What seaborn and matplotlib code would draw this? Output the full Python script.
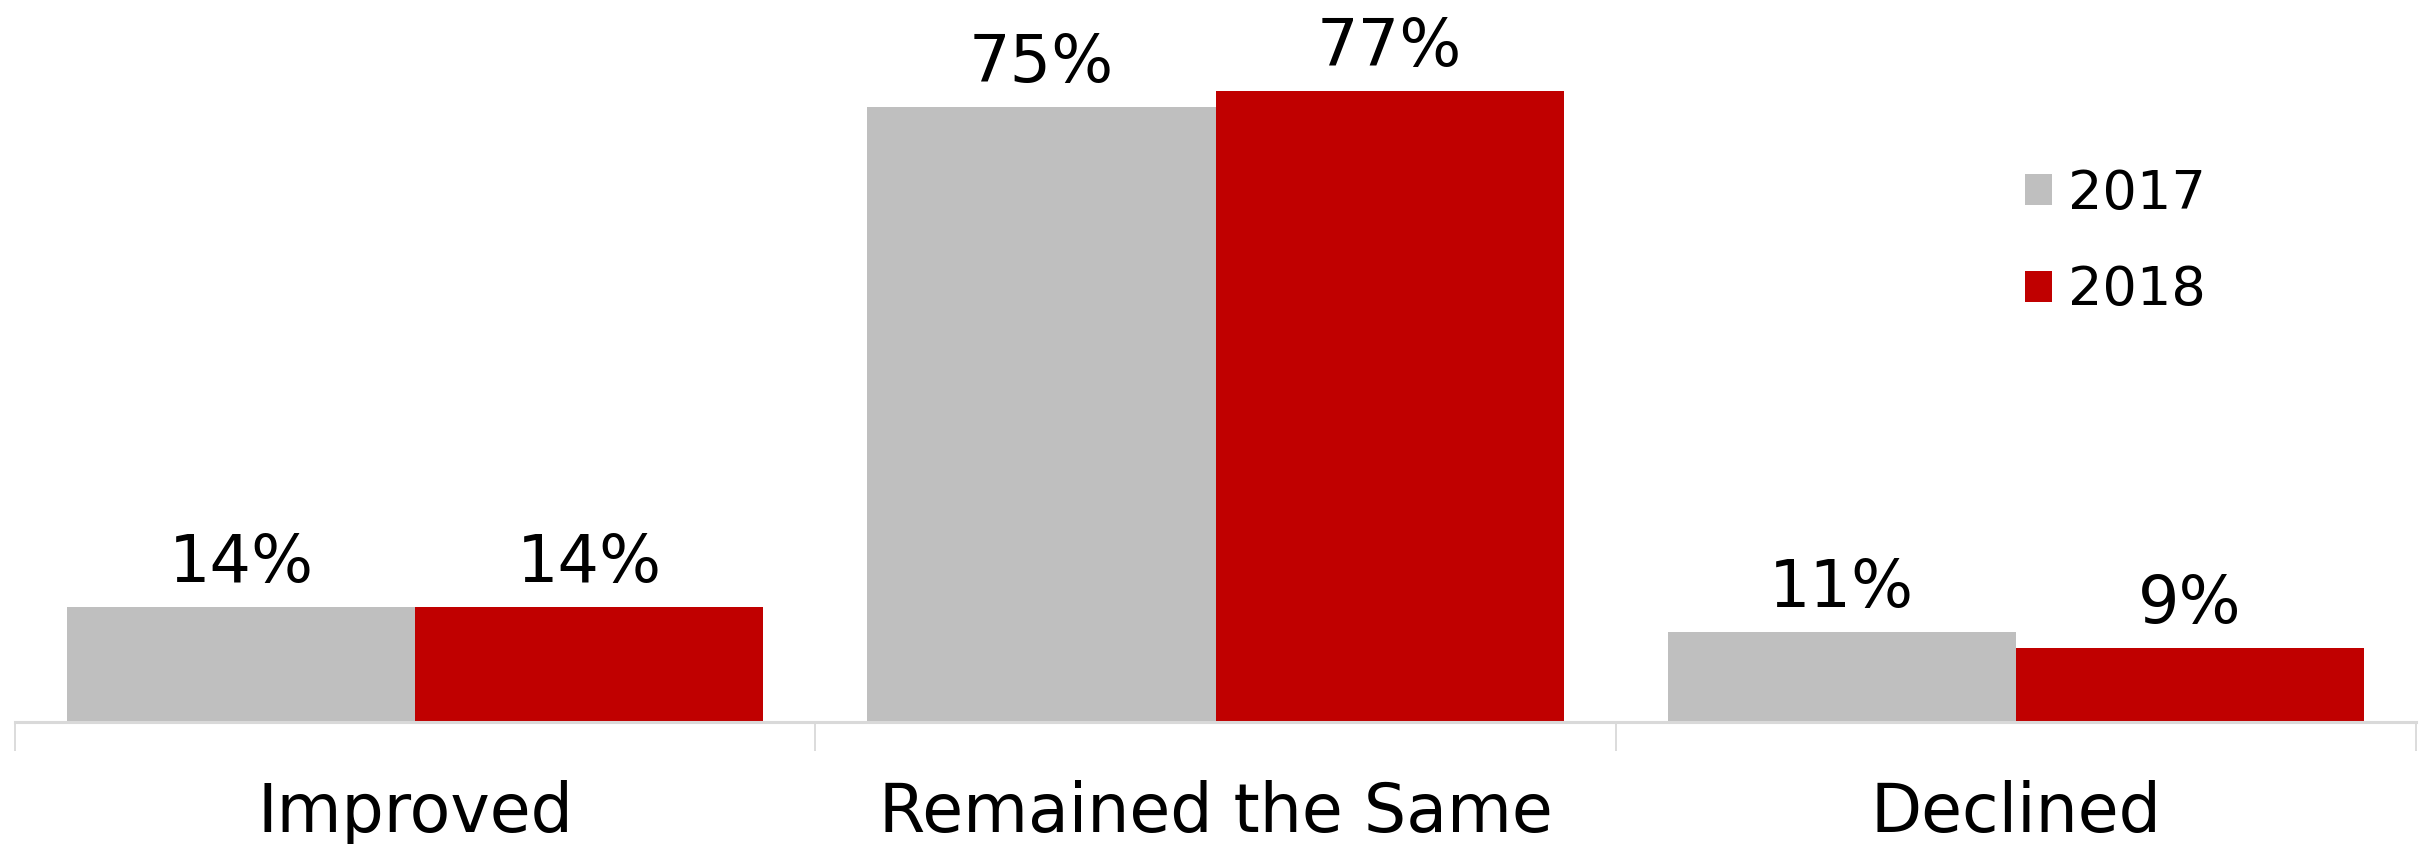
import matplotlib
matplotlib.use("Agg")
import matplotlib.pyplot as plt
import seaborn as sns
import pandas as pd

# Survey results by outcome and year
categories = ["Improved", "Remained the Same", "Declined"]
years = ["2017", "2018"]
share_2017 = [0.14, 0.75, 0.11]
share_2018 = [0.14, 0.77, 0.09]

colors = {"2017": "#BFBFBF", "2018": "#C00000"}

df = pd.DataFrame({
    "category": categories * 2,
    "year": [years[0]] * 3 + [years[1]] * 3,
    "share": share_2017 + share_2018,
})

sns.set_theme(style="white")
plt.rcParams["font.family"] = ["DejaVu Sans"]
plt.rcParams["text.color"] = "black"

W, H = 2424, 844
fig = plt.figure(figsize=(W / 100, H / 100), dpi=100)
ax = fig.add_axes([15 / W, (H - 722) / H, (2416 - 15) / W, 722 / H])

sns.barplot(data=df, x="category", y="share", hue="year", order=categories,
            hue_order=years, palette=colors, width=0.87, saturation=1,
            linewidth=0, ax=ax)

ax.set_xlim(-0.5, 2.5)
ax.set_ylim(0, 0.881)
ax.set_xlabel("")
ax.set_ylabel("")
ax.set_yticks([])

for side in ["left", "right", "top"]:
    ax.spines[side].set_visible(False)
ax.spines["bottom"].set_color("#D9D9D9")
ax.spines["bottom"].set_linewidth(2.2)

# Category separators as tick marks below the axis
ax.set_xticks([-0.5, 0.5, 1.5, 2.5], minor=True)
ax.tick_params(axis="x", which="minor", length=21, width=1.3, color="#D9D9D9",
               direction="out", bottom=True)
ax.tick_params(axis="x", which="major", length=0, pad=42, labelsize=48,
               labelcolor="black")

# Value labels above every bar
for container, yr in zip(ax.containers, years):
    vals = share_2017 if yr == "2017" else share_2018
    ax.bar_label(container, labels=[f"{v * 100:.0f}%" for v in vals],
                 padding=8, fontsize=47, color="black")

handles, labels = ax.get_legend_handles_labels()
leg = ax.legend(handles, labels, loc="upper left",
                bbox_to_anchor=(2025 / W, 1 - 168 / H), bbox_transform=fig.transFigure,
                frameon=False, fontsize=39, handlelength=0.5, handleheight=0.5,
                handletextpad=0.3, labelspacing=0.82, borderpad=0, borderaxespad=0)
for t in leg.get_texts():
    t.set_color("black")

fig.savefig("out.png", dpi=100, facecolor="white")
